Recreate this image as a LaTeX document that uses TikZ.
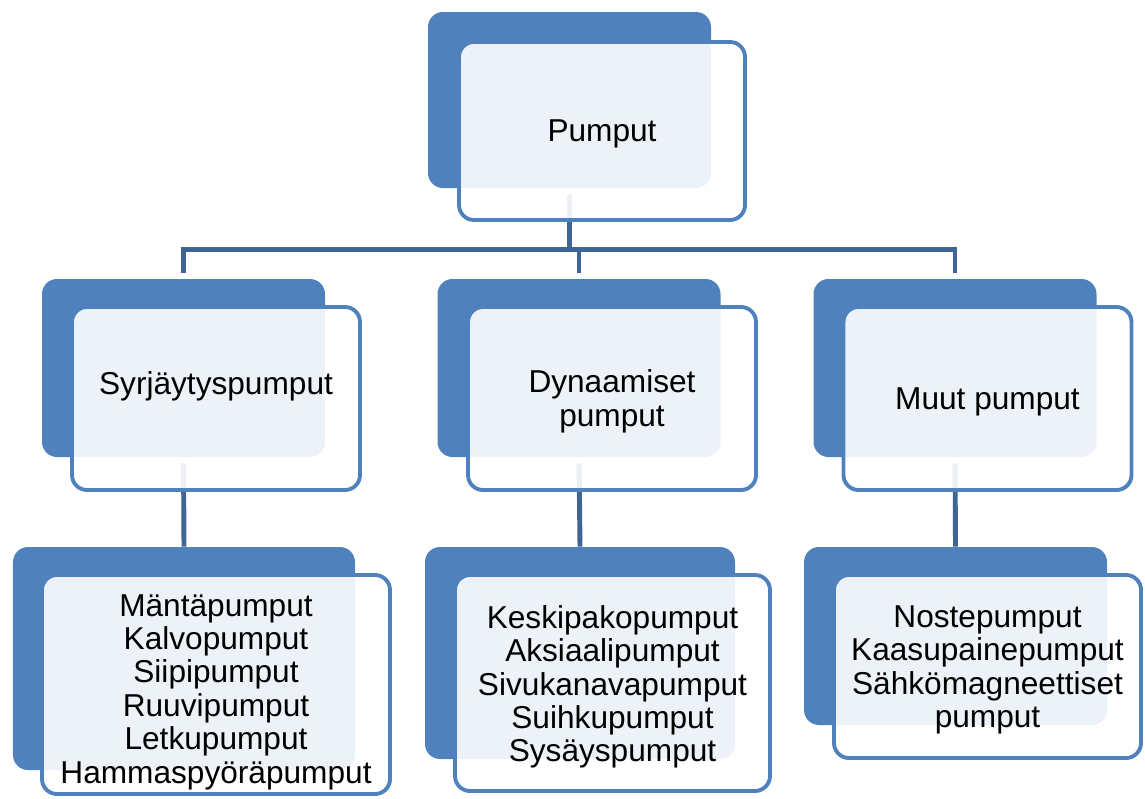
\documentclass[tikz,border=0pt]{standalone}
\usepackage{fontspec}
\setmainfont{Liberation Sans}
\definecolor{pblue}{RGB}{79,129,189}
\definecolor{lineblue}{RGB}{62,101,150}
\tikzset{
  back/.style={fill=pblue, rounded corners=0.3cm, inner sep=0pt},
  front/.style={draw=pblue, line width=2.2pt, fill=white, fill opacity=0.9,
    rounded corners=0.3cm, inner sep=0pt},
  txt/.style={inner sep=0pt, align=center, font=\fontsize{18}{19}\selectfont},
  conn/.style={draw=lineblue, line width=2.8pt}
}
\begin{document}
\begin{tikzpicture}
  \useasboundingbox (0,0) rectangle (22.9,-15.96);

  % back boxes
  \node[back, minimum width=5.66cm, minimum height=3.52cm] (pumput-bg) at (11.39,-2.00) {};
  \node[back, minimum width=5.66cm, minimum height=3.56cm] (syr-bg) at (3.67,-7.36) {};
  \node[back, minimum width=5.66cm, minimum height=3.56cm] (dyn-bg) at (11.58,-7.36) {};
  \node[back, minimum width=5.66cm, minimum height=3.56cm] (muut-bg) at (19.10,-7.36) {};
  \node[back, minimum width=6.84cm, minimum height=4.46cm] (syrlist-bg) at (3.68,-13.17) {};
  \node[back, minimum width=6.20cm, minimum height=4.24cm] (dynlist-bg) at (11.60,-13.06) {};
  \node[back, minimum width=6.06cm, minimum height=3.56cm] (muutlist-bg) at (19.11,-12.72) {};

  % connectors
  \draw[conn, shorten <=0.14cm] (pumput-bg.south) -- ++(0,-1.23) coordinate (bus);
  \draw[conn, shorten <=0.12cm, shorten >=0.12cm] (syr-bg.north) |- (bus) -| (muut-bg.north);
  \draw[conn, shorten >=0.12cm] (dyn-bg.north |- bus) -- (dyn-bg.north);
  \draw[conn, shorten <=0.12cm] (syr-bg.south) -- (syrlist-bg.north);
  \draw[conn, shorten <=0.12cm] (dyn-bg.south) -- (dynlist-bg.north);
  \draw[conn, shorten <=0.12cm] (muut-bg.south) -- (muutlist-bg.north);

  % front boxes
  \node[front, minimum width=5.72cm, minimum height=3.56cm] (pumput) at (12.04,-2.62) {};
  \node[front, minimum width=5.76cm, minimum height=3.66cm] (syr) at (4.32,-7.97) {};
  \node[front, minimum width=5.76cm, minimum height=3.66cm] (dyn) at (12.24,-7.97) {};
  \node[front, minimum width=5.76cm, minimum height=3.66cm] (muut) at (19.75,-7.97) {};
  \node[front, minimum width=6.96cm, minimum height=4.38cm] (syrlist) at (4.32,-13.69) {};
  \node[front, minimum width=6.30cm, minimum height=4.32cm] (dynlist) at (12.25,-13.66) {};
  \node[front, minimum width=6.14cm, minimum height=3.66cm] (muutlist) at (19.75,-13.33) {};

  % texts
  \node[txt, yshift=-0.06cm] (pumput-txt) at (pumput) {Pumput};
  \node[txt, yshift=0.25cm] (syr-txt) at (syr) {Syrjäytyspumput};
  \node[txt, yshift=-0.06cm] (dyn-txt) at (dyn) {Dynaamiset\\pumput};
  \node[txt, yshift=-0.06cm] (muut-txt) at (muut) {Muut pumput};
  \node[txt, yshift=-0.15cm] (syrlist-txt) at (syrlist)
    {Mäntäpumput\\Kalvopumput\\Siipipumput\\Ruuvipumput\\Letkupumput\\Hammaspyöräpumput};
  \node[txt, yshift=-0.08cm] (dynlist-txt) at (dynlist)
    {Keskipakopumput\\Aksiaalipumput\\Sivukanavapumput\\Suihkupumput\\Sysäyspumput};
  \node[txt, yshift=-0.07cm] (muutlist-txt) at (muutlist)
    {Nostepumput\\Kaasupainepumput\\Sähkömagneettiset\\pumput};
\end{tikzpicture}
\end{document}
